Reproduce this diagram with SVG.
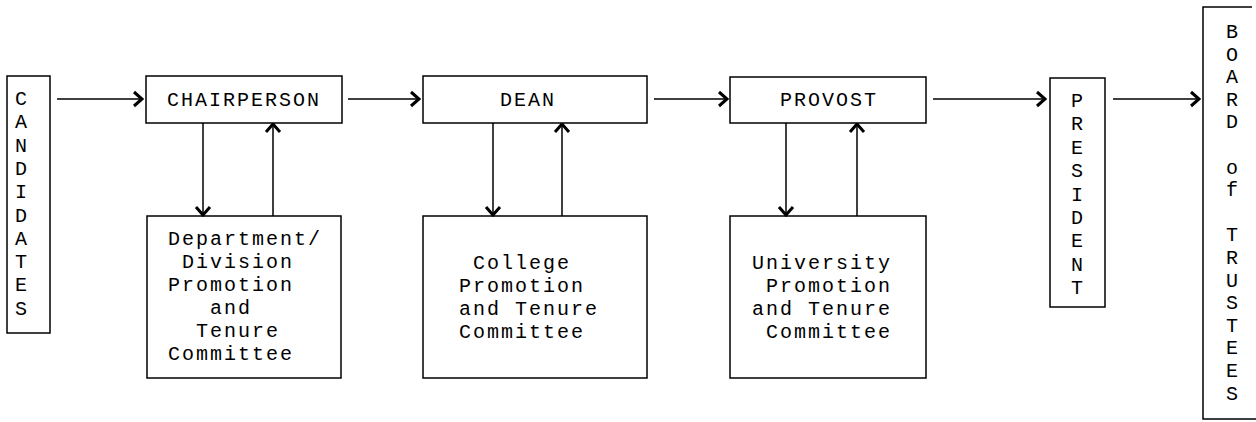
<svg xmlns="http://www.w3.org/2000/svg" width="1256" height="422" viewBox="0 0 1256 422">
<style>
.box{fill:#fff;stroke:#000;stroke-width:1.5}
.t{font-family:"Liberation Mono","Courier New",monospace;font-size:20px;letter-spacing:2px;fill:#000}
.v{font-family:"Liberation Mono","Courier New",monospace;font-size:20px;fill:#000;text-anchor:middle}
.c{stroke:#000;stroke-width:1.5;fill:none}
</style>
<defs>
<marker id="ah" viewBox="0 0 11 18" refX="9.5" refY="9" markerWidth="11" markerHeight="18" orient="auto" markerUnits="userSpaceOnUse">
<path d="M1.5,2 L9.5,9 L1.5,16" fill="none" stroke="#000" stroke-width="3" stroke-linejoin="miter"/>
</marker>
</defs>
<rect width="1256" height="422" fill="#fff"/>

<g id="candidates">
<rect class="box" x="7" y="76" width="43" height="257"/>
<text class="v" x="21" y="105"><tspan x="21">C</tspan><tspan x="21" dy="23.3">A</tspan><tspan x="21" dy="23.3">N</tspan><tspan x="21" dy="23.3">D</tspan><tspan x="21" dy="23.3">I</tspan><tspan x="21" dy="23.3">D</tspan><tspan x="21" dy="23.3">A</tspan><tspan x="21" dy="23.3">T</tspan><tspan x="21" dy="23.3">E</tspan><tspan x="21" dy="23.3">S</tspan></text>
</g>

<g id="chairperson">
<rect class="box" x="146" y="76" width="196" height="47"/>
<text class="t" x="167" y="106">CHAIRPERSON</text>
</g>

<g id="dept-committee">
<rect class="box" x="147" y="216" width="194" height="162"/>
<text class="t"><tspan x="168" y="245">Department/</tspan><tspan x="182" y="268">Division</tspan><tspan x="168" y="291">Promotion</tspan><tspan x="210" y="314">and</tspan><tspan x="196" y="337">Tenure</tspan><tspan x="168" y="360">Committee</tspan></text>
</g>

<g id="dean">
<rect class="box" x="423" y="76" width="224" height="47"/>
<text class="t" x="500" y="106">DEAN</text>
</g>

<g id="college-committee">
<rect class="box" x="423" y="216" width="224" height="162"/>
<text class="t"><tspan x="473" y="269">College</tspan><tspan x="459" y="292">Promotion</tspan><tspan x="459" y="315">and Tenure</tspan><tspan x="459" y="338">Committee</tspan></text>
</g>

<g id="provost">
<rect class="box" x="730" y="77" width="196" height="46"/>
<text class="t" x="780" y="106">PROVOST</text>
</g>

<g id="university-committee">
<rect class="box" x="730" y="216" width="196" height="162"/>
<text class="t"><tspan x="752" y="269">University</tspan><tspan x="766" y="292">Promotion</tspan><tspan x="752" y="315">and Tenure</tspan><tspan x="766" y="338">Committee</tspan></text>
</g>

<g id="president">
<rect class="box" x="1050" y="78" width="55" height="229"/>
<text class="v" x="1077" y="107"><tspan x="1077">P</tspan><tspan x="1077" dy="23.4">R</tspan><tspan x="1077" dy="23.4">E</tspan><tspan x="1077" dy="23.4">S</tspan><tspan x="1077" dy="23.4">I</tspan><tspan x="1077" dy="23.4">D</tspan><tspan x="1077" dy="23.4">E</tspan><tspan x="1077" dy="23.4">N</tspan><tspan x="1077" dy="23.4">T</tspan></text>
</g>

<g id="board">
<path class="c" d="M1252,7 H1203 V419 H1256"/>
<text class="v" x="1232" y="38"><tspan x="1232">B</tspan><tspan x="1232" dy="22.6">O</tspan><tspan x="1232" dy="22.6">A</tspan><tspan x="1232" dy="22.6">R</tspan><tspan x="1232" dy="22.6">D</tspan><tspan x="1232" dy="45.2">o</tspan><tspan x="1232" dy="22.6">f</tspan><tspan x="1232" dy="45.2">T</tspan><tspan x="1232" dy="22.6">R</tspan><tspan x="1232" dy="22.6">U</tspan><tspan x="1232" dy="22.6">S</tspan><tspan x="1232" dy="22.6">T</tspan><tspan x="1232" dy="22.6">E</tspan><tspan x="1232" dy="22.6">E</tspan><tspan x="1232" dy="22.6">S</tspan></text>
</g>

<g id="connectors">
<line class="c" x1="57" y1="99" x2="142" y2="99" marker-end="url(#ah)"/>
<line class="c" x1="348" y1="99" x2="419" y2="99" marker-end="url(#ah)"/>
<line class="c" x1="654" y1="99" x2="727" y2="99" marker-end="url(#ah)"/>
<line class="c" x1="933" y1="99" x2="1045" y2="99" marker-end="url(#ah)"/>
<line class="c" x1="1113" y1="99" x2="1199" y2="99" marker-end="url(#ah)"/>
<line class="c" x1="203" y1="123" x2="203" y2="215" marker-end="url(#ah)"/>
<line class="c" x1="273" y1="216" x2="273" y2="124" marker-end="url(#ah)"/>
<line class="c" x1="493" y1="123" x2="493" y2="215" marker-end="url(#ah)"/>
<line class="c" x1="562" y1="216" x2="562" y2="124" marker-end="url(#ah)"/>
<line class="c" x1="786" y1="123" x2="786" y2="215" marker-end="url(#ah)"/>
<line class="c" x1="857" y1="216" x2="857" y2="124" marker-end="url(#ah)"/>
</g>
</svg>
